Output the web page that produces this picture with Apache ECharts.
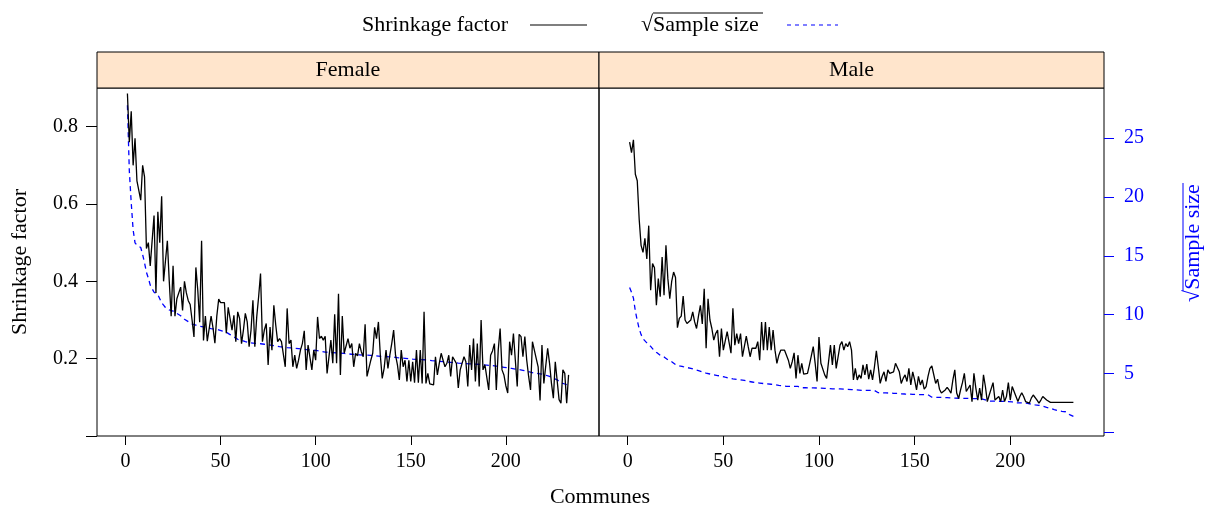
<!DOCTYPE html>
<html>
<head>
<meta charset="utf-8">
<title>Shrinkage factor by commune</title>
<script src="https://cdn.jsdelivr.net/npm/echarts@6/dist/echarts.min.js"></script>
<style>
  html, body { margin: 0; padding: 0; background: #fff; }
  #chart { width: 1208px; height: 508px; }
</style>
</head>
<body>
<div id="chart"></div>
<script>
// communes are sorted by sample size (largest first)
const panels = ['Female', 'Male'];
const xTicks = [0, 50, 100, 150, 200];
const shrinkTicks = [0.2, 0.4, 0.6, 0.8];
const sqrtTicks = [5, 10, 15, 20, 25];

const femaleShrink = [
  0.886, 0.76, 0.84, 0.70, 0.77, 0.66, 0.655, 0.61, 0.70, 0.67,
  0.485, 0.50, 0.44, 0.435, 0.57, 0.37, 0.58, 0.50, 0.62, 0.40,
  0.40, 0.505, 0.40, 0.31, 0.44, 0.31, 0.355, 0.35, 0.385, 0.325,
  0.40, 0.37, 0.35, 0.34, 0.30, 0.256, 0.436, 0.377, 0.294, 0.505,
  0.247, 0.31, 0.245, 0.245, 0.31, 0.28, 0.24, 0.31, 0.354, 0.345,
  0.345, 0.345, 0.266, 0.333, 0.332, 0.274, 0.312, 0.244, 0.321, 0.304,
  0.239, 0.274, 0.317, 0.295, 0.231, 0.274, 0.351, 0.231, 0.308, 0.36,
  0.42, 0.244, 0.274, 0.291, 0.184, 0.282, 0.222, 0.338, 0.287, 0.244,
  0.252, 0.244, 0.248, 0.179, 0.33, 0.239, 0.248, 0.179, 0.209, 0.175,
  0.196, 0.222, 0.239, 0.272, 0.171, 0.235, 0.231, 0.171, 0.222, 0.196,
  0.308, 0.252, 0.258, 0.248, 0.258, 0.162, 0.162, 0.248, 0.188, 0.315,
  0.188, 0.368, 0.158, 0.31, 0.214, 0.209, 0.252, 0.227, 0.239, 0.179,
  0.214, 0.207, 0.239, 0.218, 0.205, 0.289, 0.154, 0.154, 0.196, 0.214,
  0.281, 0.252, 0.295, 0.209, 0.149, 0.175, 0.222, 0.175, 0.209, 0.239,
  0.274, 0.209, 0.184, 0.145, 0.222, 0.179, 0.196, 0.141, 0.196, 0.141,
  0.192, 0.138, 0.222, 0.138, 0.222, 0.136, 0.321, 0.136, 0.162, 0.135,
  0.132, 0.132, 0.205, 0.158, 0.188, 0.214, 0.196, 0.179, 0.188, 0.209,
  0.154, 0.205, 0.209, 0.188, 0.124, 0.171, 0.171, 0.205, 0.192, 0.128,
  0.235, 0.171, 0.252, 0.141, 0.239, 0.128, 0.30, 0.171, 0.184, 0.179,
  0.119, 0.209, 0.22, 0.239, 0.119, 0.222, 0.278, 0.171, 0.158, 0.13,
  0.111, 0.244, 0.209, 0.265, 0.196, 0.128, 0.263, 0.257, 0.205, 0.257,
  0.196, 0.154, 0.119, 0.244, 0.239, 0.20, 0.179, 0.092, 0.235, 0.136,
  0.136, 0.227, 0.188, 0.136, 0.098, 0.192, 0.192, 0.094, 0.085, 0.171,
  0.162, 0.085, 0.158
];

const femaleSqrtN = [
  27.8, 22.2, 19.5, 17.2, 16.1, 15.9, 15.8, 15.7, 15.1, 14.4,
  13.6, 13.1, 12.5, 12.2, 11.9, 11.8, 11.7, 11.6, 11.0, 10.8,
  10.6, 10.5, 10.4, 10.4, 10.3, 10.2, 10.1, 10.0, 9.9, 9.8,
  9.6, 9.5, 9.4, 9.3, 9.2, 9.1, 9.1, 9.0, 9.0, 9.0,
  8.95, 8.9, 8.9, 8.85, 8.8, 8.77, 8.75, 8.72, 8.7, 8.66,
  8.6, 8.55, 8.5, 8.4, 8.3, 8.2, 8.1, 7.95, 7.9, 7.85,
  7.8, 7.75, 7.7, 7.65, 7.61, 7.6, 7.58, 7.56, 7.55, 7.53,
  7.52, 7.5, 7.48, 7.45, 7.43, 7.4, 7.38, 7.35, 7.33, 7.3,
  7.28, 7.26, 7.24, 7.22, 7.2, 7.19, 7.17, 7.16, 7.14, 7.12,
  7.1, 7.08, 7.06, 7.04, 7.03, 7.01, 7.0, 6.99, 6.97, 6.96,
  6.93, 6.9, 6.87, 6.84, 6.81, 6.8, 6.79, 6.78, 6.77, 6.76,
  6.74, 6.73, 6.72, 6.71, 6.7, 6.67, 6.66, 6.65, 6.63, 6.62,
  6.6, 6.59, 6.58, 6.57, 6.56, 6.56, 6.55, 6.54, 6.53, 6.52,
  6.5, 6.49, 6.47, 6.45, 6.44, 6.43, 6.42, 6.41, 6.4, 6.39,
  6.38, 6.36, 6.34, 6.33, 6.31, 6.3, 6.28, 6.26, 6.25, 6.23,
  6.22, 6.21, 6.2, 6.19, 6.18, 6.17, 6.16, 6.15, 6.13, 6.11,
  6.09, 6.08, 6.06, 6.05, 6.03, 6.02, 6.0, 5.99, 5.97, 5.96,
  5.94, 5.93, 5.91, 5.9, 5.88, 5.87, 5.86, 5.85, 5.83, 5.82,
  5.81, 5.8, 5.8, 5.79, 5.78, 5.77, 5.76, 5.74, 5.72, 5.71,
  5.69, 5.68, 5.66, 5.64, 5.62, 5.59, 5.57, 5.54, 5.52, 5.49,
  5.47, 5.44, 5.42, 5.4, 5.37, 5.35, 5.32, 5.29, 5.26, 5.22,
  5.18, 5.14, 5.1, 5.07, 5.03, 5.01, 4.99, 4.97, 4.94, 4.91,
  4.85, 4.8, 4.74, 4.67, 4.6, 4.54, 4.45, 4.35, 4.2, 4.15,
  4.1, 4.06, 4.0
];

const maleShrink = [
  0.76, 0.733, 0.766, 0.677, 0.66, 0.561, 0.493, 0.475, 0.511, 0.458,
  0.544, 0.377, 0.446, 0.435, 0.338, 0.407, 0.36, 0.463, 0.364, 0.493,
  0.407, 0.355, 0.40, 0.424, 0.41, 0.28, 0.304, 0.31, 0.362, 0.30,
  0.291, 0.291, 0.30, 0.321, 0.295, 0.278, 0.31, 0.338, 0.29, 0.381,
  0.227, 0.355, 0.30, 0.278, 0.248, 0.265, 0.274, 0.205, 0.278, 0.222,
  0.222, 0.27, 0.269, 0.214, 0.33, 0.235, 0.265, 0.239, 0.265, 0.205,
  0.205, 0.258, 0.231, 0.205, 0.227, 0.231, 0.227, 0.244, 0.196, 0.295,
  0.222, 0.295, 0.222, 0.282, 0.222, 0.274, 0.222, 0.188, 0.209, 0.222,
  0.220, 0.222, 0.222, 0.196, 0.175, 0.192, 0.215, 0.149, 0.209, 0.162,
  0.188, 0.160, 0.164, 0.162, 0.184, 0.207, 0.231, 0.188, 0.141, 0.256,
  0.188, 0.184, 0.158, 0.149, 0.149, 0.235, 0.184, 0.235, 0.175, 0.178,
  0.235, 0.244, 0.222, 0.239, 0.231, 0.244, 0.222, 0.145, 0.175, 0.145,
  0.158, 0.149, 0.184, 0.158, 0.186, 0.147, 0.171, 0.145, 0.179, 0.220,
  0.179, 0.136, 0.154, 0.166, 0.141, 0.171, 0.162, 0.166, 0.166, 0.188,
  0.190, 0.166, 0.136, 0.149, 0.158, 0.141, 0.175, 0.132, 0.166, 0.145,
  0.119, 0.154, 0.132, 0.145, 0.121, 0.128, 0.154, 0.175, 0.181, 0.179,
  0.136, 0.147, 0.121, 0.111, 0.111, 0.119, 0.126, 0.119, 0.111, 0.145,
  0.171, 0.111, 0.097, 0.119, 0.138, 0.162, 0.115, 0.119, 0.132, 0.089,
  0.162, 0.124, 0.093, 0.124, 0.093, 0.158, 0.128, 0.089, 0.106, 0.102,
  0.138, 0.093, 0.089, 0.102, 0.089, 0.119, 0.089, 0.102, 0.138, 0.093,
  0.128, 0.124, 0.102, 0.089, 0.102, 0.112, 0.102, 0.089, 0.093, 0.085,
  0.098, 0.106, 0.111, 0.093, 0.085, 0.093, 0.102, 0.104, 0.093, 0.089,
  0.087, 0.087, 0.087, 0.087, 0.087, 0.087, 0.087, 0.087, 0.087, 0.087,
  0.087, 0.087, 0.087
];

const maleSqrtN = [
  12.3, 11.9, 11.4, 10.3, 9.5, 8.8, 8.3, 7.95, 7.8, 7.6,
  7.5, 7.3, 7.1, 6.95, 6.8, 6.65, 6.55, 6.45, 6.4, 6.3,
  6.15, 6.1, 6.0, 5.85, 5.75, 5.7, 5.65, 5.6, 5.57, 5.53,
  5.5, 5.46, 5.43, 5.38, 5.33, 5.28, 5.24, 5.2, 5.13, 5.07,
  5.03, 5.0, 4.95, 4.9, 4.87, 4.85, 4.82, 4.8, 4.77, 4.72,
  4.68, 4.64, 4.6, 4.55, 4.54, 4.52, 4.5, 4.47, 4.45, 4.42,
  4.4, 4.37, 4.33, 4.3, 4.27, 4.24, 4.2, 4.19, 4.18, 4.16,
  4.14, 4.12, 4.11, 4.1, 4.08, 4.06, 4.04, 4.0, 3.98, 3.97,
  3.95, 3.93, 3.9, 3.89, 3.89, 3.89, 3.89, 3.89, 3.89, 3.88,
  3.78, 3.78, 3.78, 3.78, 3.77, 3.77, 3.77, 3.76, 3.76, 3.75,
  3.75, 3.74, 3.73, 3.72, 3.71, 3.7, 3.69, 3.69, 3.69, 3.68,
  3.68, 3.67, 3.66, 3.64, 3.64, 3.63, 3.62, 3.61, 3.6, 3.59,
  3.58, 3.57, 3.56, 3.55, 3.55, 3.55, 3.55, 3.55, 3.55, 3.5,
  3.36, 3.35, 3.35, 3.34, 3.34, 3.33, 3.33, 3.32, 3.31, 3.3,
  3.3, 3.29, 3.27, 3.26, 3.25, 3.24, 3.24, 3.23, 3.22, 3.21,
  3.21, 3.2, 3.2, 3.2, 3.19, 3.19, 3.19, 3.1, 2.98, 2.98,
  2.97, 2.97, 2.96, 2.96, 2.95, 2.95, 2.94, 2.93, 2.92, 2.91,
  2.9, 2.9, 2.89, 2.89, 2.88, 2.88, 2.88, 2.87, 2.87, 2.86,
  2.86, 2.85, 2.85, 2.84, 2.84, 2.83, 2.75, 2.64, 2.64, 2.64,
  2.64, 2.64, 2.64, 2.64, 2.63, 2.63, 2.62, 2.62, 2.61, 2.6,
  2.58, 2.55, 2.5, 2.5, 2.5, 2.49, 2.49, 2.48, 2.45, 2.42,
  2.39, 2.36, 2.33, 2.3, 2.29, 2.28, 2.22, 2.17, 2.12, 2.08,
  2.03, 1.98, 1.93, 1.89, 1.84, 1.8, 1.78, 1.76, 1.74, 1.72,
  1.5, 1.43, 1.35
];

const FONT = 'Liberation Serif';
const BLUE = '#0000ff';

// pair each value with its commune rank (1, 2, 3, ...)
function ranked(values) {
  return values.map((v, i) => [i + 1, v]);
}

let chart = echarts.init(document.getElementById('chart'));

const gridBoxes = [
  { left: 97, top: 88, width: 502, height: 348 },
  { left: 599, top: 88, width: 505, height: 348 }
];

let option = {
  animation: false,
  backgroundColor: '#fff',
  textStyle: { fontFamily: FONT, color: '#000' },
  grid: gridBoxes.map(b => ({
    left: b.left, top: b.top, width: b.width, height: b.height,
    show: true, borderColor: '#000', borderWidth: 1, backgroundColor: 'transparent'
  })),
  xAxis: [0, 1].map(g => ({
    type: 'value',
    gridIndex: g,
    min: -15,
    max: 249,
    axisLine: { show: false, onZero: false },
    splitLine: { show: false },
    axisTick: {
      show: true, length: 9, inside: false,
      customValues: xTicks,
      lineStyle: { color: '#000', width: 1 }
    },
    axisLabel: {
      show: true, margin: 16, customValues: xTicks,
      fontFamily: FONT, fontSize: 20, color: '#000'
    }
  })),
  yAxis: [
    {
      type: 'value', gridIndex: 0, position: 'left',
      min: 0, max: 0.9,
      name: 'Shrinkage factor',
      nameLocation: 'middle',
      nameGap: 66,
      nameRotate: 90,
      nameTextStyle: { fontFamily: FONT, fontSize: 22, color: '#000' },
      axisLine: { show: false, onZero: false },
      splitLine: { show: false },
      axisTick: {
        show: true, length: 11, customValues: [0].concat(shrinkTicks),
        lineStyle: { color: '#000', width: 1 }
      },
      axisLabel: {
        show: true, margin: 19, customValues: shrinkTicks,
        fontFamily: FONT, fontSize: 20, color: '#000',
        formatter: v => v.toFixed(1)
      }
    },
    {
      type: 'value', gridIndex: 0, position: 'right',
      min: -0.32, max: 29.26, show: false,
      axisLine: { onZero: false }
    },
    {
      type: 'value', gridIndex: 1, position: 'left',
      min: 0, max: 0.9, show: false,
      axisLine: { onZero: false }
    },
    {
      type: 'value', gridIndex: 1, position: 'right',
      min: -0.32, max: 29.26,
      axisLine: { show: false, onZero: false },
      splitLine: { show: false },
      axisTick: {
        show: true, length: 10, customValues: [0].concat(sqrtTicks),
        lineStyle: { color: BLUE, width: 1 }
      },
      axisLabel: {
        show: true, margin: 20, customValues: sqrtTicks,
        fontFamily: FONT, fontSize: 20, color: BLUE
      }
    }
  ],
  series: [
    {
      name: 'Female sqrt n', type: 'line', xAxisIndex: 0, yAxisIndex: 1,
      data: ranked(femaleSqrtN), showSymbol: false, silent: true,
      lineStyle: { color: BLUE, width: 1.3, type: [5, 4] }
    },
    {
      name: 'Female shrinkage', type: 'line', xAxisIndex: 0, yAxisIndex: 0,
      data: ranked(femaleShrink), showSymbol: false, silent: true,
      lineStyle: { color: '#000', width: 1.3 }
    },
    {
      name: 'Male sqrt n', type: 'line', xAxisIndex: 1, yAxisIndex: 3,
      data: ranked(maleSqrtN), showSymbol: false, silent: true,
      lineStyle: { color: BLUE, width: 1.3, type: [5, 4] }
    },
    {
      name: 'Male shrinkage', type: 'line', xAxisIndex: 1, yAxisIndex: 2,
      data: ranked(maleShrink), showSymbol: false, silent: true,
      lineStyle: { color: '#000', width: 1.3 }
    }
  ],
  graphic: [
    // strips on top of the panels
    ...gridBoxes.map((b, i) => ({
      type: 'group',
      children: [
        {
          type: 'rect',
          shape: { x: b.left, y: 52, width: b.width, height: 36 },
          style: { fill: '#ffe5cc', stroke: '#000', lineWidth: 1 }
        },
        {
          type: 'text',
          x: b.left + b.width / 2, y: 70,
          style: {
            text: panels[i], fontFamily: FONT, fontSize: 22, fill: '#000',
            align: 'center', verticalAlign: 'middle'
          }
        }
      ]
    })),
    // legend
    {
      type: 'text', x: 508, y: 25,
      style: {
        text: 'Shrinkage factor', fontFamily: FONT, fontSize: 22, fill: '#000',
        align: 'right', verticalAlign: 'middle'
      }
    },
    {
      type: 'line', shape: { x1: 530, y1: 25, x2: 587, y2: 25 },
      style: { stroke: '#000', lineWidth: 1.2 }
    },
    {
      type: 'text', x: 641, y: 25,
      style: {
        text: '√Sample size', fontFamily: FONT, fontSize: 22, fill: '#000',
        align: 'left', verticalAlign: 'middle'
      }
    },
    {
      type: 'line', shape: { x1: 653, y1: 13, x2: 763, y2: 13 },
      style: { stroke: '#000', lineWidth: 1 }
    },
    {
      type: 'line', shape: { x1: 787, y1: 25, x2: 838, y2: 25 },
      style: { stroke: BLUE, lineWidth: 1.2, lineDash: [4, 4] }
    },
    // x axis title, shared by both panels
    {
      type: 'text', x: 600, y: 497,
      style: {
        text: 'Communes', fontFamily: FONT, fontSize: 22, fill: '#000',
        align: 'center', verticalAlign: 'middle'
      }
    },
    // right axis title with the overline of the root sign
    {
      type: 'group', x: 1193, y: 243, rotation: Math.PI / 2,
      children: [
        {
          type: 'text', x: 0, y: 0,
          style: {
            text: '√Sample size', fontFamily: FONT, fontSize: 22, fill: BLUE,
            align: 'center', verticalAlign: 'middle'
          }
        },
        {
          type: 'line', shape: { x1: -48, y1: -10, x2: 60, y2: -10 },
          style: { stroke: BLUE, lineWidth: 1 }
        }
      ]
    }
  ]
};

chart.setOption(option);
window.addEventListener('resize', function () {
  chart.resize();
});
</script>
</body>
</html>
